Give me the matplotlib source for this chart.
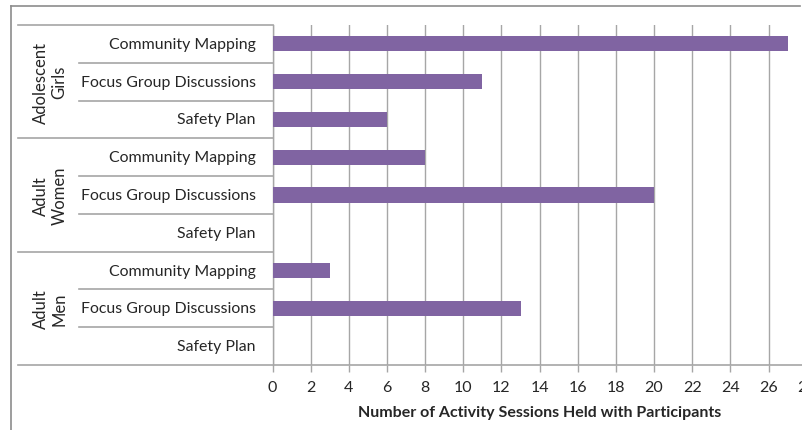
import matplotlib
matplotlib.use('Agg')
import matplotlib.pyplot as plt
import matplotlib.transforms as mtransforms
from matplotlib.lines import Line2D
import numpy as np

# ===== DATA =====
GROUPS = ["Adolescent\nGirls", "Adult\nWomen", "Adult\nMen"]
ACTIVITIES = ["Community Mapping", "Focus Group Discussions", "Safety Plan"]
SESSIONS = [
    [27, 11, 6],   # Adolescent Girls
    [8, 20, 0],    # Adult Women
    [3, 13, 0],    # Adult Men
]
X_TICKS = list(range(0, 29, 2))
XLABEL = "Number of Activity Sessions Held with Participants"

BAR_COLOR = "#8064A2"
LINE_COLOR = "#A6A6A6"
TEXT_COLOR = "#262626"

plt.rcParams['font.family'] = ['Lato', 'DejaVu Sans']

W, H = 803, 431
fig = plt.figure(figsize=(W / 100, H / 100), dpi=100)

# plot area in pixels
x0, x1 = 272.5, 806.7
y_top, y_bot = 26, 366
ax = fig.add_axes([x0 / W, 1 - y_bot / H, (x1 - x0) / W, (y_bot - y_top) / H])

n_rows = len(GROUPS) * len(ACTIVITIES)
vals = [v for grp in SESSIONS for v in grp]
ypos = np.arange(n_rows)
ax.barh(ypos, vals, height=0.4, color=BAR_COLOR, zorder=3)

ax.set_xlim(0, 28)
ax.set_ylim(n_rows - 0.5, -0.5)
ax.set_xticks(X_TICKS)
ax.set_yticks([])
ax.tick_params(axis='x', direction='out', length=5, width=1, color=LINE_COLOR,
               labelsize=11.5, labelcolor=TEXT_COLOR, pad=6)
ax.grid(axis='x', color=LINE_COLOR, linewidth=1, zorder=0)
for s in ['top', 'right', 'bottom']:
    ax.spines[s].set_visible(False)
ax.spines['left'].set_color(LINE_COLOR)
ax.spines['left'].set_linewidth(1)

ax.set_xlabel(XLABEL, fontsize=11.5, fontweight='bold', color=TEXT_COLOR, labelpad=8)

# category area (figure x, data y)
tr = mtransforms.blended_transform_factory(fig.transFigure, ax.transData)
left_grp = 18 / W
left_sub = 79 / W
axis_x = x0 / W

# bottom axis line across category area
fig.add_artist(Line2D([left_grp, 1.0], [1 - y_bot / H, 1 - y_bot / H],
                      transform=fig.transFigure, color=LINE_COLOR, lw=1.2))

for i in range(n_rows):
    y = i - 0.5
    xs = left_grp if i % len(ACTIVITIES) == 0 else left_sub
    fig.add_artist(Line2D([xs, axis_x], [y, y], transform=tr,
                          color=LINE_COLOR, lw=1.2))

for i, act in enumerate(ACTIVITIES * len(GROUPS)):
    fig.text(256 / W, i, act, transform=tr, ha='right', va='center',
             fontsize=11.4, color=TEXT_COLOR)

for g, name in enumerate(GROUPS):
    yc = g * len(ACTIVITIES) + (len(ACTIVITIES) - 1) / 2
    fig.text(50 / W, yc, name, transform=tr, ha='center', va='center',
             rotation=90, multialignment='center', fontsize=12,
             color=TEXT_COLOR, linespacing=1.2)

# outer chart border (top and left visible in the crop)
fig.add_artist(Line2D([11 / W, 800 / W], [1 - 7 / H, 1 - 7 / H],
                      transform=fig.transFigure, color='#8C8C8C', lw=1.2))
fig.add_artist(Line2D([11 / W, 11 / W], [1 - 7 / H, 0],
                      transform=fig.transFigure, color='#8C8C8C', lw=1.2))

fig.savefig("out.png", dpi=100)
